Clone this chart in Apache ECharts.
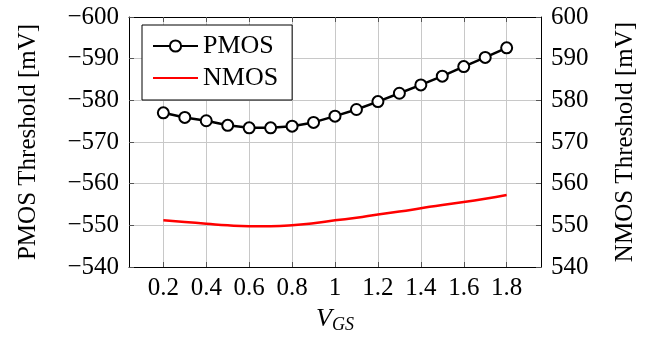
<!DOCTYPE html>
<html><head><meta charset="utf-8">
<script src="https://cdn.jsdelivr.net/npm/echarts@6/dist/echarts.min.js"></script>
<style>html,body{margin:0;padding:0;background:#fff}#c{width:652px;height:343px}</style>
</head><body><div id="c"></div>
<script>
const vgs = [0.2,0.3,0.4,0.5,0.6,0.7,0.8,0.9,1.0,1.1,1.2,1.3,1.4,1.5,1.6,1.7,1.8];
const pmos = [-577.0,-575.9,-575.1,-574.0,-573.4,-573.4,-573.8,-574.7,-576.2,-577.8,-579.7,-581.7,-583.7,-585.8,-588.1,-590.3,-592.6];
const nmos = [551.2,550.8,550.4,550.0,549.8,549.8,550.0,550.5,551.2,551.8,552.6,553.3,554.1,554.9,555.6,556.4,557.3];
const xTicks = [0.2,0.4,0.6,0.8,1,1.2,1.4,1.6,1.8];
const FONT = 'Liberation Serif';
const chart = echarts.init(document.getElementById('c'));
const tickStyle = {show:true, inside:true, length:5, lineStyle:{color:'#555', width:1}};
chart.setOption({
  animation:false,
  textStyle:{fontFamily:FONT},
  grid:{left:129, right:111, top:17, bottom:76},
  legend:{
    orient:'vertical', left:142, top:25,
    padding:[8,14,9,10], itemGap:6, itemWidth:45, itemHeight:14,
    borderColor:'#000', borderWidth:1, backgroundColor:'#fff', borderRadius:0,
    textStyle:{fontFamily:FONT, fontSize:26, color:'#000', lineHeight:26},
    data:['PMOS', {name:'NMOS', itemStyle:{opacity:0}}]
  },
  xAxis:[{
    type:'value', min:0.04, max:1.96, position:'bottom',
    name:'{v|V}{s|GS}', nameLocation:'middle', nameGap:34,
    nameTextStyle:{rich:{v:{fontFamily:FONT, fontStyle:'italic', fontSize:26, color:'#000'}, s:{fontFamily:FONT, fontStyle:'italic', fontSize:18, color:'#000', padding:[12,0,0,0]}}},
    axisLine:{show:true, lineStyle:{color:'#000', width:1}},
    axisTick:Object.assign({customValues:xTicks}, tickStyle),
    axisLabel:{customValues:xTicks, fontFamily:FONT, fontSize:25, color:'#000', margin:9},
    splitLine:{show:true, lineStyle:{color:'#c8c8c8', width:1}}
  },{
    type:'value', min:0.04, max:1.96, position:'top',
    axisLine:{show:true, lineStyle:{color:'#000', width:1}},
    axisTick:Object.assign({customValues:xTicks}, tickStyle),
    axisLabel:{show:false}, splitLine:{show:false}
  }],
  yAxis:[{
    type:'value', min:-600, max:-540, interval:10, inverse:true, position:'left',
    name:'PMOS Threshold [mV]', nameLocation:'middle', nameGap:88, nameRotate:90,
    nameTextStyle:{fontFamily:FONT, fontSize:25, color:'#000'},
    axisLine:{show:true, lineStyle:{color:'#000', width:1}},
    axisTick:tickStyle,
    axisLabel:{fontFamily:FONT, fontSize:25, color:'#000', margin:10,
      formatter:v => v < 0 ? '\u2212' + Math.abs(v) : String(v)},
    splitLine:{show:true, lineStyle:{color:'#c8c8c8', width:1}}
  },{
    type:'value', min:540, max:600, interval:10, position:'right',
    name:'NMOS Threshold [mV]', nameLocation:'middle', nameGap:72, nameRotate:90,
    nameTextStyle:{fontFamily:FONT, fontSize:25, color:'#000'},
    axisLine:{show:true, lineStyle:{color:'#000', width:1}},
    axisTick:tickStyle,
    axisLabel:{fontFamily:FONT, fontSize:25, color:'#000', margin:10},
    splitLine:{show:false}
  }],
  series:[{
    name:'PMOS', type:'line', xAxisIndex:0, yAxisIndex:0,
    data:vgs.map((x,i)=>[x,pmos[i]]),
    symbol:'emptyCircle', symbolSize:11,
    lineStyle:{color:'#000', width:2.5},
    itemStyle:{color:'#000', borderColor:'#000', borderWidth:2.5}
  },{
    name:'NMOS', type:'line', xAxisIndex:0, yAxisIndex:1,
    data:vgs.map((x,i)=>[x,nmos[i]]),
    symbol:'none', smooth:true,
    lineStyle:{color:'#ff0000', width:2.5},
    itemStyle:{color:'#ff0000'}
  }]
});
</script></body></html>
